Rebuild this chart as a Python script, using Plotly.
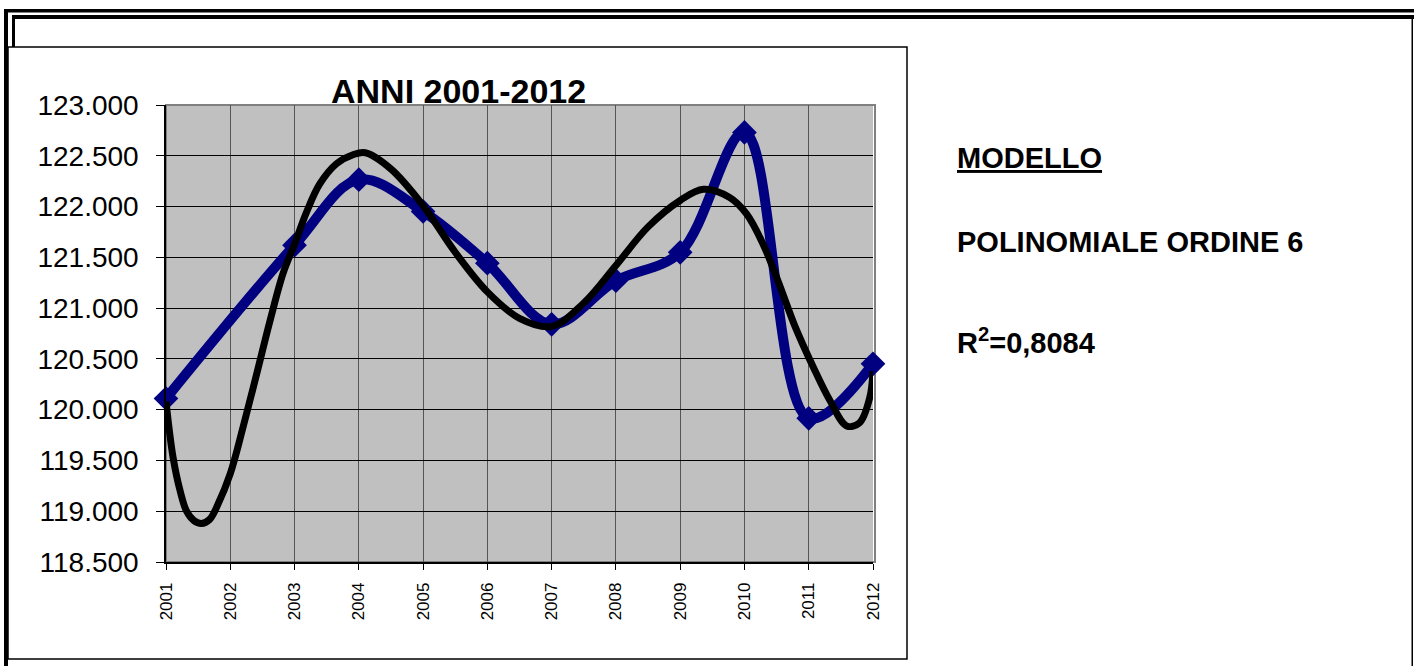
import plotly.graph_objects as go

W, H = 1414, 666

# ---- data ----
years = [2001, 2002, 2003, 2004, 2005, 2006, 2007, 2008, 2009, 2010, 2011, 2012]
year_labels = [str(y) for y in years]
values = [120110, None, 121620, 122265, 121952, 121442, 120840, 121270, 121549, 122730, 119915, 120451]

# polynomial (order 6) trendline
trend_x = [2001.00, 2001.11, 2001.22, 2001.32, 2001.43, 2001.55, 2001.68, 2001.81, 2002.00,
           2002.20, 2002.41, 2002.62, 2002.82, 2003.00, 2003.19, 2003.39, 2003.65, 2003.91,
           2004.10, 2004.50, 2005.00, 2005.50, 2006.00, 2006.50, 2007.00,
           2007.50, 2008.00, 2008.50, 2009.00, 2009.36, 2009.77, 2010.03, 2010.29, 2010.55,
           2010.78, 2011.07, 2011.33, 2011.59, 2011.79, 2011.95, 2012.00]
trend_y = [120080, 119530, 119200, 119000, 118910, 118880, 118920, 119070, 119370,
           119830, 120350, 120880, 121340, 121630, 121950, 122220, 122420, 122510,
           122530, 122370, 122010, 121550, 121160, 120900, 120820,
           121050, 121420, 121800, 122060, 122170, 122090, 121930, 121630, 121220,
           120830, 120420, 120090, 119840, 119870, 120120, 120380]

title_text = "ANNI 2001-2012"
side_texts = ["<u>MODELLO</u>", "POLINOMIALE ORDINE 6", "R<sup>2</sup>=0,8084"]

FONT = "Arial, Liberation Sans, sans-serif"


def px(x):
    return x / W


def py(y):
    return 1 - y / H


PL, PR, PT, PB = 166, 873, 105, 562

fig = go.Figure()

fig.add_trace(go.Scatter(
    x=years, y=values, mode="lines+markers", connectgaps=True,
    line=dict(color="#000080", width=10, shape="spline", smoothing=1),
    marker=dict(symbol="diamond", size=19, color="#000080"),
    cliponaxis=False, showlegend=False, hoverinfo="x+y"))

fig.add_trace(go.Scatter(
    x=trend_x, y=trend_y, mode="lines",
    line=dict(color="#000000", width=7, shape="spline", smoothing=1),
    cliponaxis=False, showlegend=False, hoverinfo="skip"))

shapes = []


def rect(x0, y0, x1, y1, fill=None, line_color=None, lw=0, layer="above"):
    shapes.append(dict(type="rect", xref="paper", yref="paper",
                       x0=px(x0), x1=px(x1), y0=py(y1), y1=py(y0),
                       fillcolor=fill if fill else "rgba(0,0,0,0)",
                       line=dict(color=line_color if line_color else "rgba(0,0,0,0)", width=lw),
                       layer=layer))


# document frame
rect(4, 9, 1414, 12.5, fill="#000")
rect(12, 15, 1414, 19, fill="#000")
rect(4, 9, 8, 666, fill="#000")
rect(12, 15, 15, 47, fill="#000")
rect(1411.5, 19, 1413, 666, fill="#000")
# chart area box
rect(8, 47, 907, 659, line_color="#000", lw=1.5, layer="below")
# plot area border (grey)
rect(PL, PT, PR + 2, PB, line_color="#808080", lw=2, layer="below")

annotations = [
    dict(text="<b>%s</b>" % title_text, x=px(458), y=py(112), xref="paper", yref="paper",
         xanchor="center", yanchor="bottom", showarrow=False,
         font=dict(family=FONT, size=34, color="#000")),
]
side_y = [158, 242, 341]
for t, yy in zip(side_texts, side_y):
    annotations.append(dict(text="<b>%s</b>" % t, x=px(955), y=py(yy), xref="paper", yref="paper",
                            xanchor="left", yanchor="middle", showarrow=False,
                            font=dict(family=FONT, size=29, color="#000")))

fig.update_layout(
    width=W, height=H, autosize=False,
    margin=dict(l=0, r=0, t=0, b=0, pad=0),
    paper_bgcolor="#ffffff",
    plot_bgcolor="#C0C0C0",
    separators=",.",
    showlegend=False,
    shapes=shapes,
    annotations=annotations,
    xaxis=dict(domain=[px(PL), px(PR)], range=[2001, 2012], automargin=False,
               tickmode="array", tickvals=years, ticktext=year_labels, tickangle=-90,
               showgrid=True, gridcolor="#555555", gridwidth=1,
               ticks="outside", ticklen=6, tickcolor="#000", tickwidth=1,
               showline=True, linecolor="#000", linewidth=1.5, zeroline=False,
               ticklabelstandoff=6,
               tickfont=dict(family=FONT, size=17, color="#000")),
    yaxis=dict(domain=[py(PB), py(PT)], range=[118500, 123000], automargin=False,
               tick0=118500, dtick=500, tickformat=",.0f",
               showgrid=True, gridcolor="#000000", gridwidth=1,
               ticks="outside", ticklen=8, tickcolor="#000", tickwidth=1,
               showline=True, linecolor="#000", linewidth=1.5, zeroline=False,
               ticklabelstandoff=12,
               tickfont=dict(family=FONT, size=28, color="#000")),
)

fig.write_html("out.html",
               config={"displayModeBar": False},
               post_script="document.body.style.margin='0';document.body.style.overflow='hidden';")
